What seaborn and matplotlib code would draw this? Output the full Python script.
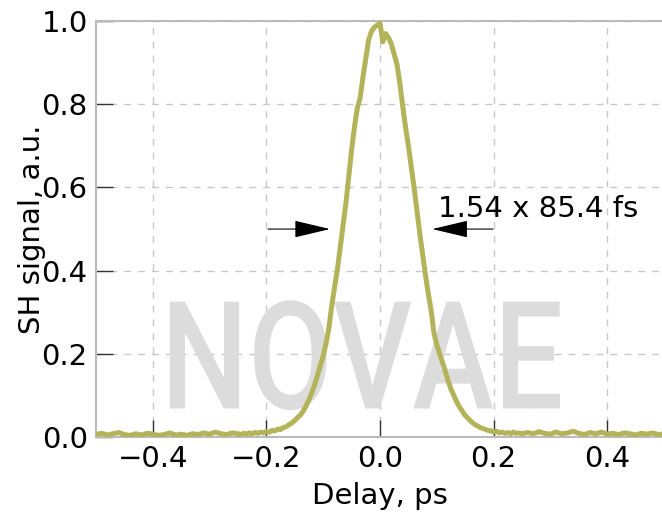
import numpy as np
import pandas as pd
import matplotlib
matplotlib.use("Agg")
import matplotlib.pyplot as plt
import seaborn as sns
from matplotlib.textpath import TextPath
from matplotlib.patches import PathPatch
from matplotlib.font_manager import FontProperties
from matplotlib.transforms import Affine2D

# autocorrelation trace
delay = [-0.50, -0.49, -0.48, -0.47, -0.46, -0.45, -0.44, -0.43, -0.42, -0.41,
         -0.40, -0.39, -0.38, -0.37, -0.36, -0.35, -0.34, -0.33, -0.32, -0.31,
         -0.30, -0.29, -0.28, -0.27, -0.26,
         -0.250, -0.245, -0.240, -0.235, -0.230, -0.225, -0.220, -0.215, -0.210, -0.205,
         -0.200, -0.195, -0.190, -0.185, -0.180, -0.175, -0.170, -0.165, -0.160, -0.155,
         -0.150, -0.145, -0.140, -0.135, -0.130, -0.125, -0.120, -0.115, -0.110, -0.105,
         -0.100, -0.095, -0.090, -0.085, -0.080, -0.075, -0.070, -0.065, -0.060, -0.055,
         -0.050, -0.045, -0.040, -0.035, -0.030, -0.025, -0.020, -0.015, -0.010, -0.005,
         0.000, 0.005, 0.010, 0.015, 0.020, 0.025, 0.030, 0.035, 0.040, 0.045,
         0.050, 0.055, 0.060, 0.065, 0.070, 0.075, 0.080, 0.085, 0.090, 0.095,
         0.100, 0.105, 0.110, 0.115, 0.120, 0.125, 0.130, 0.135, 0.140, 0.145,
         0.150, 0.155, 0.160, 0.165, 0.170, 0.175, 0.180, 0.185, 0.190, 0.195,
         0.200, 0.205, 0.210, 0.215, 0.220, 0.225, 0.230, 0.235, 0.240, 0.245,
         0.250,
         0.26, 0.27, 0.28, 0.29, 0.30, 0.31, 0.32, 0.33, 0.34, 0.35,
         0.36, 0.37, 0.38, 0.39, 0.40, 0.41, 0.42, 0.43, 0.44, 0.45,
         0.46, 0.47, 0.48, 0.49, 0.50]

signal = [0.006, 0.009, 0.005, 0.008, 0.011, 0.006, 0.004, 0.008, 0.005, 0.009,
          0.007, 0.004, 0.006, 0.010, 0.005, 0.007, 0.004, 0.008, 0.006, 0.010,
          0.007, 0.012, 0.008, 0.006, 0.010,
          0.008, 0.006, 0.009, 0.007, 0.010, 0.008, 0.011, 0.009, 0.012, 0.010,
          0.013, 0.012, 0.016, 0.015, 0.019, 0.018, 0.023, 0.025, 0.030, 0.034,
          0.040, 0.047, 0.053, 0.063, 0.075, 0.090, 0.107, 0.126, 0.148, 0.172,
          0.195, 0.225, 0.262, 0.315, 0.360, 0.403, 0.455, 0.510, 0.562, 0.625,
          0.690, 0.745, 0.790, 0.815, 0.865, 0.910, 0.955, 0.975, 0.985, 0.990,
          0.995, 0.950, 0.970, 0.960, 0.945, 0.920, 0.895, 0.850, 0.795, 0.745,
          0.700, 0.650, 0.600, 0.545, 0.490, 0.440, 0.390, 0.345, 0.305, 0.250,
          0.222, 0.200, 0.180, 0.158, 0.135, 0.115, 0.100, 0.085, 0.072, 0.062,
          0.052, 0.045, 0.038, 0.032, 0.028, 0.024, 0.021, 0.019, 0.016, 0.015,
          0.012, 0.014, 0.010, 0.012, 0.009, 0.011, 0.008, 0.012, 0.009, 0.010,
          0.008,
          0.011, 0.008, 0.013, 0.009, 0.007, 0.012, 0.008, 0.010, 0.014, 0.009,
          0.006, 0.011, 0.008, 0.012, 0.007, 0.009, 0.006, 0.010, 0.008, 0.005,
          0.009, 0.007, 0.010, 0.006, 0.008]

# FWHM markers
arrow_left = (-0.197, -0.088)
arrow_right = (0.199, 0.092)
arrow_level = 0.5
fwhm_label = "1.54 x 85.4 fs"
watermark = "NOVAE"

df = pd.DataFrame({"Delay": delay, "Signal": signal})

sns.set_theme(style="whitegrid")
plt.rcParams['font.family'] = ['DejaVu Sans']

fig = plt.figure(figsize=(6.62, 5.13), dpi=100)
ax = fig.add_axes([0.145, 0.148, 0.858, 0.811])

# watermark, squeezed into its box in data units
tp = TextPath((0, 0), watermark, size=1, prop=FontProperties(family="Roboto", weight="medium"))
ext = tp.get_extents()
wm_x0, wm_y0, wm_w, wm_h = -0.370, 0.065, 0.687, 0.264
tr = (Affine2D().translate(-ext.x0, -ext.y0)
      .scale(wm_w / ext.width, wm_h / ext.height)
      .translate(wm_x0, wm_y0))
ax.add_patch(PathPatch(tr.transform_path(tp), facecolor="#dcdcdc", edgecolor="none", zorder=1))

sns.lineplot(data=df, x="Delay", y="Signal", ax=ax, color="#b3b35a",
             linewidth=3.6, zorder=3)

for tail, tip in [arrow_left, arrow_right]:
    ax.annotate("", xy=(tip, arrow_level), xytext=(tail, arrow_level),
                arrowprops=dict(arrowstyle="-|>,head_length=1.9,head_width=0.45",
                                color="black", lw=0.8, shrinkA=0, shrinkB=0),
                zorder=4)
ax.text(0.102, 0.53, fwhm_label, fontsize=21, color="black", ha="left", va="baseline")

ax.set_xlim(-0.5, 0.5)
ax.set_ylim(0, 1.0)
ax.set_xticks([-0.4, -0.2, 0.0, 0.2, 0.4])
ax.set_yticks([0.0, 0.2, 0.4, 0.6, 0.8, 1.0])
ax.set_xlabel("Delay, ps", fontsize=21, color="black", labelpad=6)
ax.set_ylabel("SH signal, a.u.", fontsize=21, color="black", labelpad=-3)
ax.tick_params(axis="both", direction="in", length=12, width=1, color="#333333",
               labelsize=21, labelcolor="black", bottom=True, left=True, pad=6)
ax.grid(True, linestyle=(0, (5, 5)), color="#c8c8c8", linewidth=1)
for side in ["left", "bottom", "top", "right"]:
    ax.spines[side].set_color("#bbbbbb")
    ax.spines[side].set_linewidth(1.5)

fig.savefig("out.png", dpi=100)
